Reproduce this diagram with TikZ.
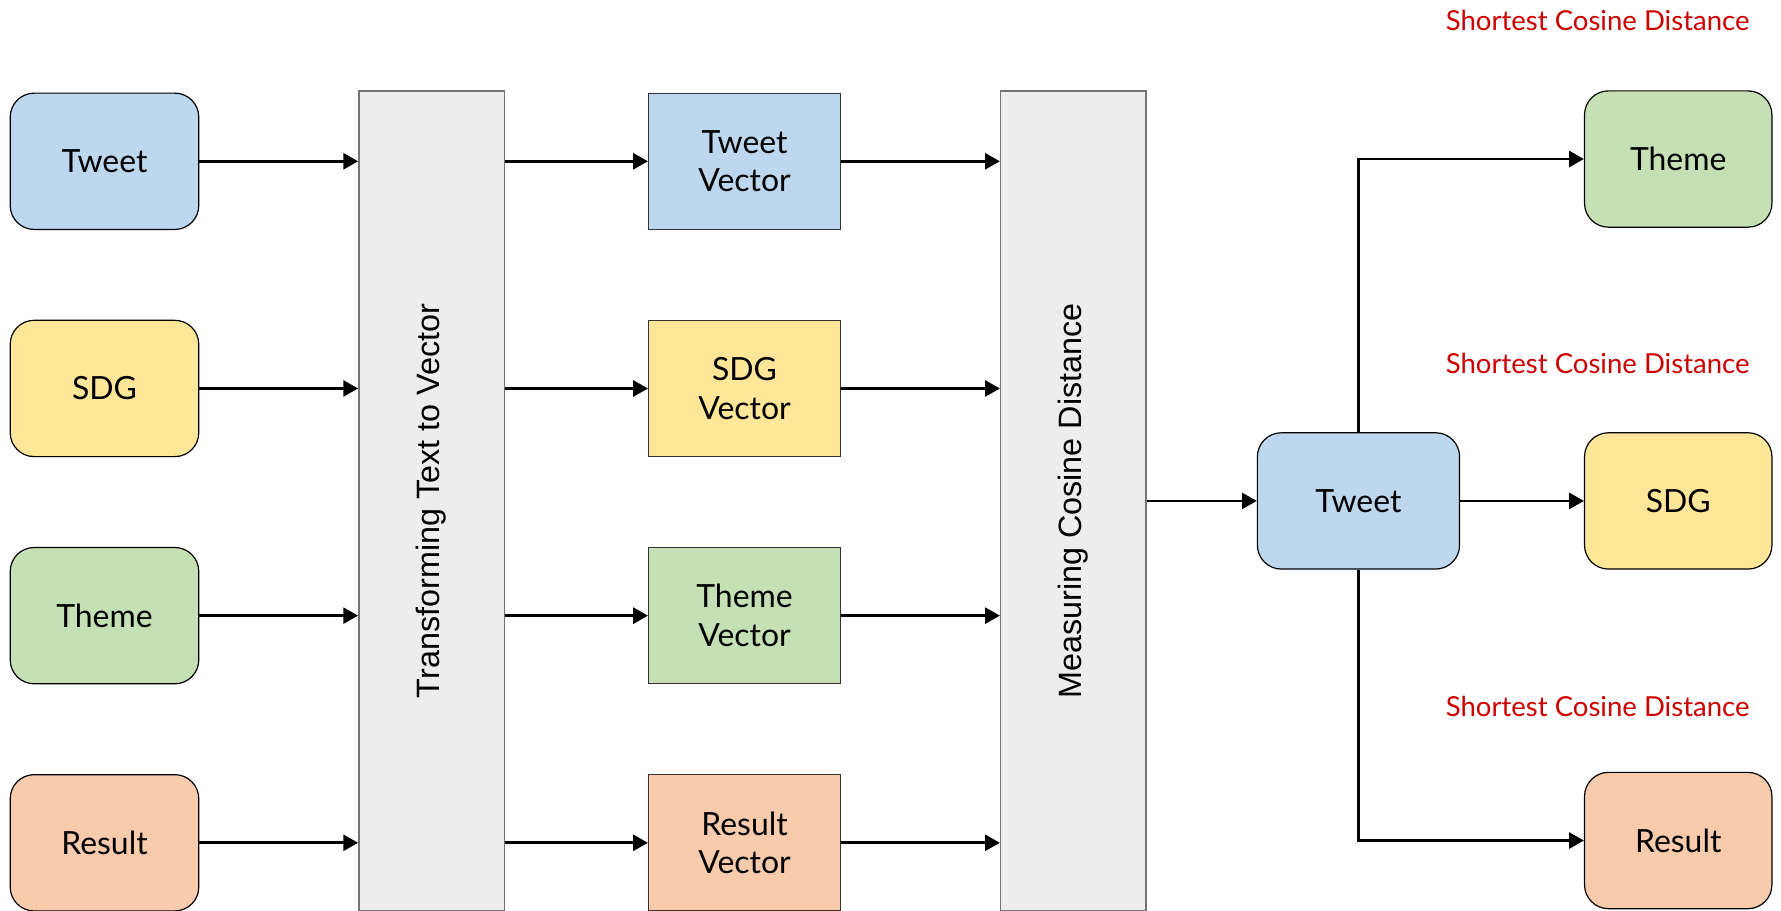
\documentclass[tikz,border=0pt]{standalone}
\usepackage{fontspec}
\setmainfont{Lato}
\newfontfamily\arialfont{Liberation Sans}
\usetikzlibrary{arrows.meta}
\definecolor{tweetblue}{RGB}{189,215,238}
\definecolor{sdgyellow}{RGB}{255,230,153}
\definecolor{themegreen}{RGB}{197,224,180}
\definecolor{resultorange}{RGB}{248,203,173}
\definecolor{stepgray}{RGB}{237,237,237}
\definecolor{distred}{RGB}{204,0,0}
\begin{document}
\begin{tikzpicture}[font=\fontsize{8}{9.7}\selectfont,
	rbox/.style={draw=black, line width=0.3pt, rounded corners=6pt, minimum width=1.66cm, minimum height=1.2cm, align=center},
	vbox/.style={draw=black!80, line width=0.3pt, minimum width=1.69cm, minimum height=1.2cm, align=center},
	stagebar/.style={draw=black!55, line width=0.4pt, fill=stepgray, minimum width=1.28cm, minimum height=7.22cm, font=\arialfont\fontsize{8.1}{9.7}\selectfont},
	flow/.style={line width=0.7pt, -{Triangle[length=0.13cm, width=0.14cm]}},
	dist/.style={text=distred, anchor=east, inner sep=0pt, font=\fontsize{6.9}{8}\selectfont}]

			\useasboundingbox (0,0) rectangle (15.68,-8.02);

			\node (tweet) at (0.92,-1.42) [rbox, fill=tweetblue] {Tweet};
			\node (sdg) at (0.92,-3.42) [rbox, fill=sdgyellow] {SDG};
			\node (theme) at (0.92,-5.42) [rbox, fill=themegreen] {Theme};
			\node (result) at (0.92,-7.42) [rbox, fill=resultorange] {Result};

			\node (transform) at (3.80,-4.41) [stagebar] {\rotatebox{90}{Transforming Text to Vector}};

			\node (tweetvec) at (6.555,-1.42) [vbox, fill=tweetblue] {Tweet\\Vector};
			\node (sdgvec) at (6.555,-3.42) [vbox, fill=sdgyellow] {SDG\\Vector};
			\node (themevec) at (6.555,-5.42) [vbox, fill=themegreen] {Theme\\Vector};
			\node (resultvec) at (6.555,-7.42) [vbox, fill=resultorange] {Result\\Vector};

			\node (measure) at (9.45,-4.41) [stagebar] {\rotatebox{90}{Measuring Cosine Distance}};

			\node (query) at (11.96,-4.41) [rbox, fill=tweetblue, minimum width=1.78cm] {Tweet};

			\node (neartheme) at (14.775,-1.40) [rbox, fill=themegreen, minimum width=1.65cm] {Theme};
			\node (nearsdg) at (14.775,-4.41) [rbox, fill=sdgyellow, minimum width=1.65cm] {SDG};
			\node (nearresult) at (14.775,-7.40) [rbox, fill=resultorange, minimum width=1.65cm] {Result};

			\node (distone) at (15.41,-0.18) [dist] {Shortest Cosine Distance};
			\node (disttwo) at (15.41,-3.20) [dist] {Shortest Cosine Distance};
			\node (distthree) at (15.41,-6.22) [dist] {Shortest Cosine Distance};

			\foreach \src/\vec in {tweet/tweetvec, sdg/sdgvec, theme/themevec, result/resultvec} {
				\draw[flow] (\src.east) -- (\src.east -| transform.west);
				\draw[flow] (\src.east -| transform.east) -- (\vec.west);
				\draw[flow] (\vec.east) -- (\vec.east -| measure.west);
			}

			\draw[flow] (measure.east |- query.west) -- (query.west);
			\draw[flow] (query.north) |- (neartheme.west);
			\draw[flow] (query.east) -- (nearsdg.west);
			\draw[flow] (query.south) |- (nearresult.west);

		\end{tikzpicture}
\end{document}
